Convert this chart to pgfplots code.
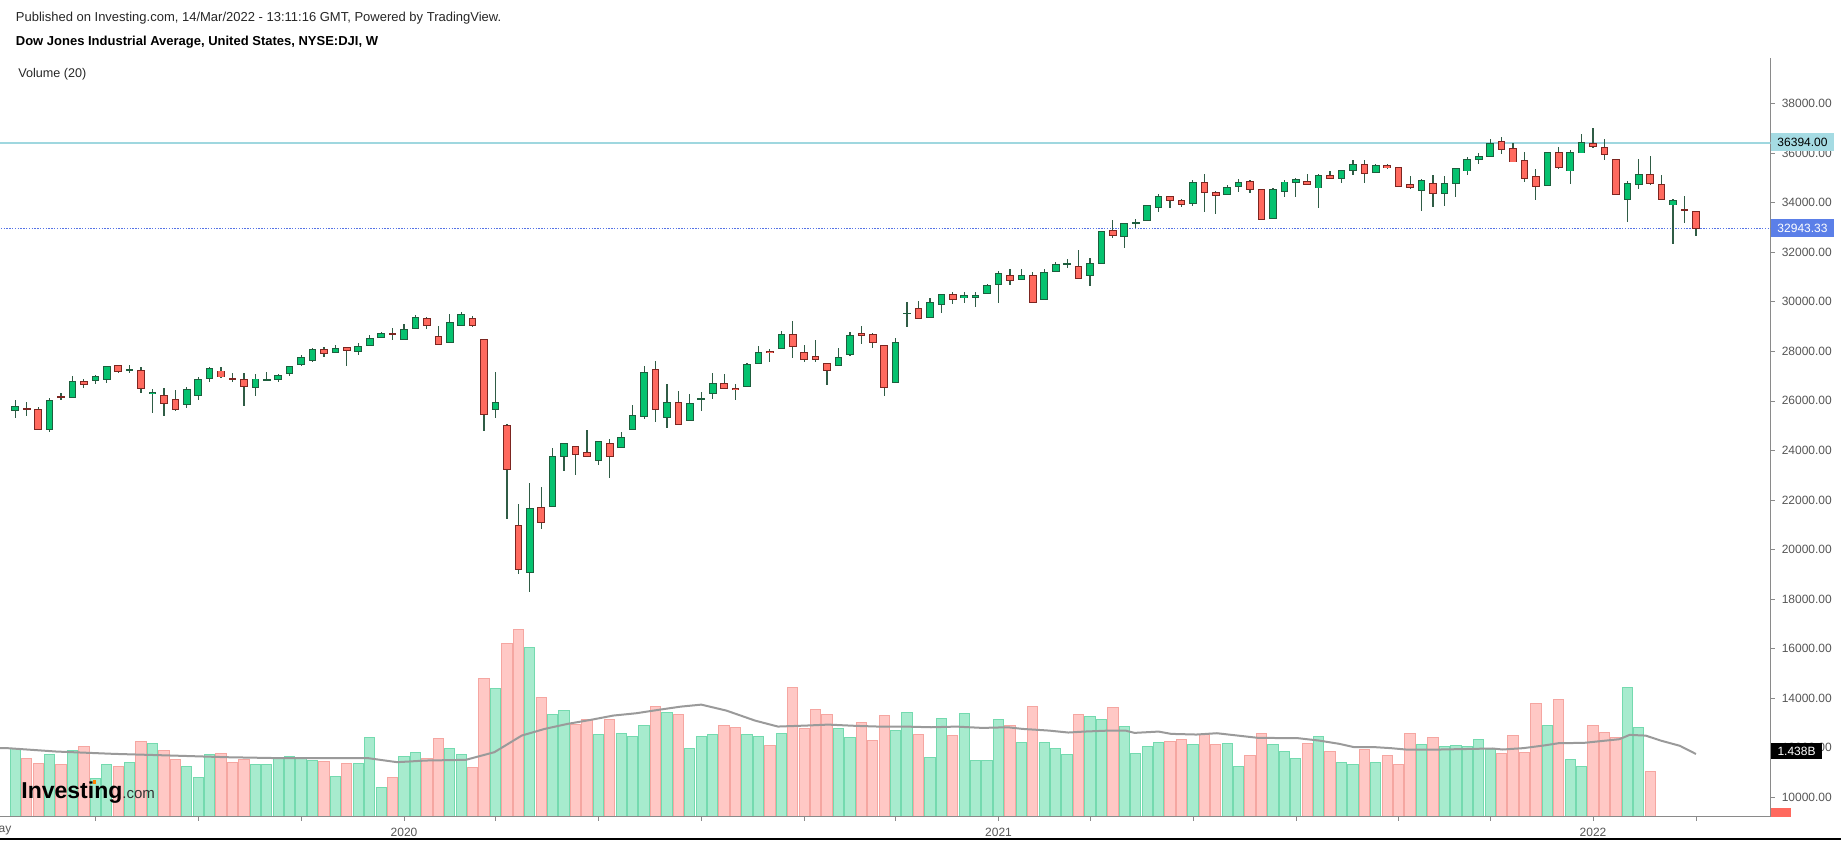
\documentclass[border=0pt]{standalone}
\usepackage{fontspec}
\setmainfont{Liberation Sans}
\usepackage{pgfplots}
\usepackage{pgfplotstable}
\pgfplotsset{compat=1.18}
\definecolor{upfill}{HTML}{05C26F}
\definecolor{upedge}{HTML}{1D5E3D}
\definecolor{dnfill}{HTML}{FF695E}
\definecolor{dnedge}{HTML}{7C2520}
\definecolor{wickc}{HTML}{2F5C45}
\definecolor{vgreen}{HTML}{A7EBCE}
\definecolor{vgreenb}{HTML}{74DAAF}
\definecolor{vred}{HTML}{FFC8C5}
\definecolor{vredb}{HTML}{F5A6A1}
\definecolor{maline}{HTML}{9A9A9A}
\definecolor{hteal}{HTML}{9FD7DF}
\definecolor{boxteal}{HTML}{A5DBE3}
\definecolor{hblue}{HTML}{5573E6}
\definecolor{boxblue}{HTML}{5B7FE8}
\definecolor{axgray}{HTML}{8A8A8A}
\definecolor{labgray}{HTML}{555555}

% week index i (0 = week of 13 May 2019, 147 = week of 7 Mar 2022); V in billions
\pgfplotstableread{
i O H L C V
0 25599 26029 25317 25787 1.570
1 25680 25935 25397 25653 1.341
2 25653 25760 24819 24859 1.212
3 24859 26124 24752 26016 1.418
4 26177 26299 26030 26137 1.189
5 26137 26984 26124 26783 1.517
6 26783 26863 26527 26648 1.609
7 26810 27038 26662 26971 0.869
8 26863 27415 26729 27388 1.189
9 27428 27455 27132 27186 1.159
10 27213 27442 27132 27253 1.235
11 27240 27348 26299 26487 1.723
12 26272 26473 25491 26352 1.669
13 26204 26500 25397 25908 1.517
14 26056 26433 25586 25640 1.311
15 25868 26568 25720 26473 1.159
16 26231 26944 26029 26850 0.907
17 26890 27348 26769 27294 1.418
18 27200 27348 26917 26958 1.441
19 26890 27106 26769 26850 1.235
20 26877 27106 25801 26594 1.311
21 26541 27079 26204 26877 1.189
22 26823 27146 26810 26850 1.189
23 26863 27079 26769 27025 1.341
24 27106 27415 26984 27388 1.388
25 27455 27832 27415 27751 1.341
26 27616 28114 27576 28073 1.288
27 28073 28154 27764 27912 1.265
28 27952 28248 27939 28114 0.930
29 28154 28154 27401 28046 1.212
30 27993 28342 27858 28194 1.212
31 28235 28652 28208 28517 1.807
32 28558 28759 28544 28706 0.670
33 28719 28921 28437 28679 0.899
34 28490 29082 28463 28880 1.388
35 28921 29445 28880 29378 1.464
36 29324 29392 28907 29042 1.341
37 28598 29028 28235 28275 1.784
38 28369 29499 28342 29149 1.570
39 29055 29593 29028 29472 1.418
40 29324 29430 28961 29055 1.128
41 28477 28477 24778 25451 3.158
42 25652 27146 25316 25935 2.929
43 25007 25061 21227 23245 3.982
44 20972 21819 19008 19210 4.302
45 19063 22667 18282 21658 3.890
46 21698 22532 20824 21093 2.723
47 21752 24079 21752 23743 2.334
48 23743 24281 23178 24281 2.426
49 24146 24146 23003 23837 2.112
50 23917 24818 23743 23743 2.234
51 23608 24375 23406 24375 1.876
52 24281 24442 22868 23743 2.234
53 24106 24751 24106 24523 1.899
54 24832 25814 24832 25410 1.831
55 25357 27401 25276 27146 2.082
56 27280 27616 25128 25652 2.531
57 25330 26661 24913 25921 2.387
58 25921 26392 25047 25047 2.334
59 25195 26258 25195 25894 1.570
60 26056 26352 25585 26096 1.831
61 26284 27105 26069 26701 1.876
62 26688 27078 26500 26500 2.082
63 26513 26661 26029 26460 2.036
64 26594 27535 26594 27468 1.876
65 27508 28208 27508 27952 1.831
66 28006 28087 27576 27952 1.624
67 28100 28800 28100 28679 1.899
68 28679 29200 27710 28194 2.952
69 27952 28248 27549 27683 2.013
70 27777 28450 27549 27683 2.448
71 27508 27508 26621 27240 2.334
72 27414 28114 27414 27737 2.013
73 27872 28759 27804 28625 1.807
74 28732 29028 28275 28638 2.166
75 28692 28746 28141 28369 1.746
76 28248 28248 26204 26540 2.311
77 26742 28544 26742 28356 1.975
78 29500 29983 28988 29540 2.387
79 29728 30024 29324 29324 1.876
80 29365 30158 29365 29970 1.364
81 29902 30279 29525 30279 2.243
82 30279 30386 29902 30077 1.860
83 30170 30386 29929 30230 2.357
84 30184 30386 29794 30238 1.281
85 30319 30722 30319 30655 1.281
86 30682 31247 29956 31140 2.220
87 31045 31301 30669 30857 2.082
88 30897 31328 30897 31059 1.693
89 31059 31193 29956 29983 2.517
90 30077 31301 30077 31193 1.693
91 31220 31610 31220 31503 1.570
92 31503 31705 31341 31543 1.419
93 31422 32068 30951 30951 2.334
94 31072 31745 30628 31543 2.288
95 31530 32848 31530 32821 2.220
96 32875 33291 32579 32673 2.494
97 32619 33157 32175 33157 2.059
98 33150 33332 32982 33190 1.442
99 33265 33910 33265 33870 1.602
100 33816 34327 33628 34246 1.693
101 34233 34233 33762 34085 1.716
102 34098 34152 33803 33910 1.769
103 33951 34892 33856 34811 1.648
104 34811 35148 33628 34408 1.883
105 34408 34475 33534 34273 1.648
106 34327 34690 34327 34596 1.671
107 34636 34932 34408 34811 1.151
108 34830 34906 34400 34540 1.410
109 34516 34542 33305 33305 1.899
110 33359 34570 33359 34516 1.648
111 34435 34906 34233 34825 1.487
112 34798 34986 34206 34919 1.334
113 34865 35161 34717 34717 1.678
114 34583 35161 33789 35094 1.830
115 35094 35255 34932 34986 1.487
116 34986 35309 34798 35282 1.235
117 35269 35713 35121 35551 1.204
118 35551 35713 34771 35174 1.533
119 35228 35551 35228 35497 1.235
120 35497 35551 35336 35403 1.396
121 35416 35416 34636 34636 1.189
122 34731 35067 34556 34623 1.899
123 34502 34946 33668 34879 1.648
124 34771 35107 33830 34354 1.808
125 34354 35067 33870 34771 1.602
126 34758 35403 34206 35363 1.625
127 35269 35834 35107 35726 1.602
128 35713 35982 35565 35861 1.769
129 35861 36546 35861 36371 1.547
130 36452 36654 35955 36130 1.442
131 36183 36385 35632 35632 1.854
132 35686 36022 34838 34959 1.465
133 35053 35349 34085 34637 2.593
134 34677 36035 34677 36008 2.082
135 36008 36237 35336 35403 2.677
136 35269 36103 34758 36008 1.304
137 35995 36762 35995 36425 1.151
138 36371 37017 36210 36264 2.082
139 36224 36546 35699 35941 1.922
140 35739 35739 34314 34314 1.808
141 34126 34879 33197 34771 2.952
142 34717 35739 34556 35134 2.037
143 35134 35887 34704 34758 1.030
144 34731 35107 34085 34126 nan
145 33897 34152 32337 34098 nan
146 33708 34260 33157 33668 nan
147 33641 33641 32659 32943 nan
}\dji

\pgfplotsset{
  chartframe/.style={
    at={(0pt,-408.35pt)}, anchor=south west,
    width=885.35pt, height=379.2pt, scale only axis,
    xmin=-1.338, xmax=153.54,
  },
  body/.style 2 args={draw=none, mark=none,
    error bars/y dir=both, error bars/y explicit, error bars/error mark=none,
    error bars/error bar style={draw=#1, line width=#2}},
}

\begin{document}
\begin{tikzpicture}
\useasboundingbox (0,0) rectangle (920.5pt,-422pt);

% ---------- volume pane ----------
\begin{axis}[chartframe, ymin=0, ymax=17.39, hide axis]
\addplot[ybar, bar width=0.9, bar shift=0pt, fill=vgreen, draw=vgreenb, line width=0.5pt,
  restrict expr to domain={\thisrow{C}-\thisrow{O}}{0:100000}]
  table[x=i, y=V] {\dji};
\addplot[ybar, bar width=0.9, bar shift=0pt, fill=vred, draw=vredb, line width=0.5pt,
  restrict expr to domain={\thisrow{O}-\thisrow{C}}{0.001:100000}]
  table[x=i, y=V] {\dji};
\addplot[maline, line width=1pt] coordinates {
(-1.4,1.575) (-0.6,1.570) (3.6,1.494) (8.6,1.441) (13.6,1.403) (18.5,1.364) (23.5,1.341)
(28.4,1.341) (30.9,1.341) (33.4,1.250) (35.9,1.288) (39.4,1.304) (41.9,1.479)
(44.3,1.861) (46.3,2.013) (48.3,2.128) (50.3,2.219) (52.3,2.319) (54.3,2.372)
(56.2,2.448) (58.2,2.524) (60.0,2.570) (62.2,2.433) (64.7,2.204) (66.7,2.067)
(69.2,2.090) (71.1,2.112) (73.6,2.082) (75.6,2.066) (77.9,2.066) (80.1,2.051)
(82.3,2.066) (84.6,2.036) (86.8,2.051) (88.1,2.013) (90.4,1.975) (92.1,1.930)
(93.5,1.952) (95.7,1.975) (97.1,1.975) (97.9,1.922) (100.0,1.952) (101.1,1.899)
(103.3,1.884) (105.1,1.914) (106.9,1.861) (108.7,1.808) (112.2,1.800) (114.0,1.747)
(115.8,1.671) (117.1,1.595) (118.9,1.595) (120.3,1.572) (121.6,1.541) (124.7,1.541)
(129.2,1.564) (130.1,1.541) (131.9,1.572) (133.7,1.633) (135.0,1.686) (137.2,1.693)
(138.6,1.731) (140.3,1.777) (141.2,1.876) (142.6,1.860) (143.9,1.747) (145.6,1.625)
(147,1.438)};
\end{axis}

% ---------- price pane ----------
\begin{axis}[chartframe, ymin=9218, ymax=39816,
  axis x line*=bottom, axis y line*=right,
  axis line style={draw=axgray, line width=0.75pt},
  tick align=outside, major tick length=2pt,
  scaled y ticks=false,
  ytick={10000,12000,...,38000},
  yticklabel style={font=\fontsize{6}{7}\selectfont, text=labgray,
    /pgf/number format/fixed, /pgf/number format/fixed zerofill,
    /pgf/number format/precision=2, /pgf/number format/1000 sep={},
    /pgf/number format/assume math mode=true},
  ytick style={draw=axgray},
  xtick={7,16,25,34,42,51,60,69,77,86,94,103,112,121,129,138,147},
  xticklabels={,,,2020,,,,,,2021,,,,,,2022,},
  xtick style={draw=axgray},
  xticklabel style={font=\fontsize{6}{7}\selectfont, text=labgray},
]
% reference lines
\addplot[hteal, line width=0.7pt] coordinates {(-2,36394) (160,36394)};
\addplot[hblue, line width=0.55pt, dash pattern=on 0.7pt off 0.7pt] coordinates {(-2,32943.33) (160,32943.33)};
% wicks
\addplot[body={wickc}{0.6pt}] table[x=i, y expr={(\thisrow{H}+\thisrow{L})/2}, y error expr={(\thisrow{H}-\thisrow{L})/2}] {\dji};
% green bodies
\addplot[body={upedge}{3.8pt}, restrict expr to domain={\thisrow{C}-\thisrow{O}}{0:100000}]
  table[x=i, y expr={(\thisrow{O}+\thisrow{C})/2}, y error expr={abs(\thisrow{C}-\thisrow{O})/2+20}] {\dji};
\addplot[body={upfill}{2.8pt}, restrict expr to domain={\thisrow{C}-\thisrow{O}}{0:100000}]
  table[x=i, y expr={(\thisrow{O}+\thisrow{C})/2}, y error expr={max(abs(\thisrow{C}-\thisrow{O})/2-20,0)}] {\dji};
% red bodies
\addplot[body={dnedge}{3.8pt}, restrict expr to domain={\thisrow{O}-\thisrow{C}}{0.001:100000}]
  table[x=i, y expr={(\thisrow{O}+\thisrow{C})/2}, y error expr={abs(\thisrow{C}-\thisrow{O})/2+20}] {\dji};
\addplot[body={dnfill}{2.8pt}, restrict expr to domain={\thisrow{O}-\thisrow{C}}{0.001:100000}]
  table[x=i, y expr={(\thisrow{O}+\thisrow{C})/2}, y error expr={max(abs(\thisrow{C}-\thisrow{O})/2-20,0)}] {\dji};
\end{axis}

% ---------- annotations (pixel coordinates) ----------
\begin{scope}[x=0.5pt, y=-0.5pt]
\node[anchor=base west, inner sep=0pt, font=\fontsize{6.5}{8}\selectfont, text=black!85] at (15.5,21.5) {Published on Investing.com, 14/Mar/2022 - 13:11:16 GMT, Powered by TradingView.};
\node[anchor=base west, inner sep=0pt, font=\fontsize{6.5}{8}\selectfont\bfseries] at (15.5,46) {Dow Jones Industrial Average, United States, NYSE:DJI, W};
\node[anchor=base west, inner sep=0pt, font=\fontsize{6.3}{8}\selectfont, text=black!85] at (18,78) {Volume (20)};
% price labels
\fill[boxteal] (1771,133.3) rectangle (1834,151);
\node[font=\fontsize{6}{7}\selectfont, text=black] at (1802.5,142.4) {36394.00};
\fill[boxblue] (1771,219) rectangle (1834,236.7);
\node[font=\fontsize{6}{7}\selectfont, text=white] at (1802.5,228) {32943.33};
\fill[black] (1771,743.3) rectangle (1822,759.3);
\node[font=\fontsize{6}{7}\selectfont, text=white] at (1796.5,751.5) {1.438B};
\fill[dnfill] (1771,808) rectangle (1791,816.5);
% partial month label at the left edge
\node[font=\fontsize{6}{7}\selectfont, text=labgray] at (0,830) {May};
% bottom rule
\draw[black, line width=1pt] (0,838.5) -- (1841,838.5);
% logo
\node[anchor=base west, inner sep=0pt, font=\fontsize{11.5}{12}\selectfont\bfseries] at (21,798) {Investing};
\node[anchor=base west, inner sep=0pt, font=\fontsize{7.5}{8}\selectfont, text=black!80] at (122,798) {.com};
\fill[orange] (93,779.5) rectangle (96,783.5);
\end{scope}
\end{tikzpicture}
\end{document}
